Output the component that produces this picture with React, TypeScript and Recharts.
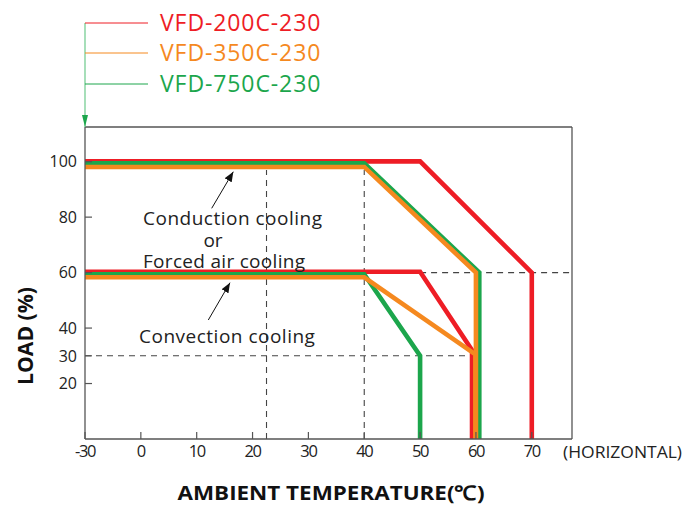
import React from "react";
import { LineChart, Line, XAxis, YAxis, ReferenceLine } from "recharts";

// colours
const RED = "#ee1d25";
const ORANGE = "#f5891f";
const GREEN = "#1ca64c";

// legend names
const models = ["VFD-200C-230", "VFD-350C-230", "VFD-750C-230"];

// x ticks (temperature, °C) and y ticks (load, %)
const tempTicks = [-30, 0, 10, 20, 30, 40, 50, 60, 70];
const loadTicksLeft = [100, 80, 60, 40, 30, 20];
const loadTicksRight = [100, 80, 60, 40, 20];

// VFD-200C-230
const redForcedT = [-30, 50, 70, 70];
const redForcedLoad = [100.1, 100.1, 60, 0];
const redConvT = [-30, 50, 59.3, 59.3];
const redConvLoad = [60.3, 60.3, 32, 0];

// VFD-750C-230
const greenForcedT = [-30, 40, 60.6, 60.6];
const greenForcedLoad = [99.4, 99.4, 60, 0];
const greenConvT = [-30, 40, 50, 50];
const greenConvLoad = [59.4, 59.4, 30, 0];

// VFD-350C-230
const orangeForcedT = [-30, 40, 60, 60];
const orangeForcedLoad = [98.1, 98.1, 60, 0];
const orangeConvT = [-30, 40, 59.9, 59.9];
const orangeConvLoad = [58.3, 58.3, 30.5, 0];

// the axis is broken: -30 sits one division left of 0
const pos = (t: number) => (t < 0 ? t / 3 : t);
const toPoints = (t: number[], l: number[]) => t.map((v, i) => ({ x: pos(v), y: l[i] }));

const X_MAX = 77.2;
const Y_MAX = 112.5;
const AXIS = "#555";
const FONT = "'Open Sans', sans-serif";

const LeftTick = (props: any) => {
  const { x, y, payload } = props;
  return (
    <g>
      <line x1={x} x2={x + 7} y1={y} y2={y} stroke={AXIS} strokeWidth={1.2} />
      <text x={x - 8} y={y} dy="0.36em" textAnchor="end" fontSize={16} fill="#222" fontFamily={FONT}>
        {payload.value}
      </text>
    </g>
  );
};

const RightTick = (props: any) => {
  const { x, y } = props;
  return <line x1={x - 7} x2={x} y1={y} y2={y} stroke={AXIS} strokeWidth={1.2} />;
};

const BottomTick = (props: any) => {
  const { x, y, payload } = props;
  const label = payload.value < 0 ? payload.value * 3 : payload.value;
  return (
    <g>
      <line x1={x} x2={x} y1={y} y2={y - 7} stroke={AXIS} strokeWidth={1.2} />
      <text x={x} y={y + 18} textAnchor="middle" fontSize={16.5} letterSpacing={-1.4} fill="#222" fontFamily={FONT}>
        {label}
      </text>
    </g>
  );
};

const dash = { stroke: "#444", strokeDasharray: "6 5", strokeWidth: 1.1 };

export default function App() {
  const lw = 4.6;
  return (
    <div style={{ position: "absolute", left: 0, top: 0, width: 689, height: 508, background: "#fff" }}>
      <LineChart width={689} height={508} margin={{ top: 126, right: 116, bottom: 68, left: 84 }}>
        <XAxis
          type="number"
          dataKey="x"
          domain={[-10, X_MAX]}
          ticks={tempTicks.map(pos)}
          tick={<BottomTick />}
          tickLine={false}
          tickSize={0}
          tickMargin={0}
          height={1}
          interval={0}
          axisLine={{ stroke: AXIS, strokeWidth: 1.3 }}
          allowDataOverflow
        />
        <XAxis
          xAxisId="top"
          orientation="top"
          type="number"
          dataKey="x"
          domain={[-10, X_MAX]}
          tick={false}
          tickLine={false}
          height={1}
          axisLine={{ stroke: AXIS, strokeWidth: 1.3 }}
        />
        <YAxis
          type="number"
          domain={[0, Y_MAX]}
          ticks={loadTicksLeft}
          tick={<LeftTick />}
          tickLine={false}
          tickSize={0}
          tickMargin={0}
          width={1}
          interval={0}
          axisLine={{ stroke: AXIS, strokeWidth: 1.3 }}
          allowDataOverflow
        />
        <YAxis
          yAxisId="right"
          orientation="right"
          type="number"
          domain={[0, Y_MAX]}
          ticks={loadTicksRight}
          tick={<RightTick />}
          tickLine={false}
          tickSize={0}
          tickMargin={0}
          width={1}
          interval={0}
          axisLine={{ stroke: AXIS, strokeWidth: 1.3 }}
        />

        <ReferenceLine segment={[{ x: 22.5, y: 0 }, { x: 22.5, y: 97 }]} {...dash} />
        <ReferenceLine segment={[{ x: 40, y: 0 }, { x: 40, y: 97 }]} {...dash} />
        <ReferenceLine segment={[{ x: 50, y: 60 }, { x: X_MAX, y: 60 }]} {...dash} />
        <ReferenceLine segment={[{ x: -10, y: 30 }, { x: 59.3, y: 30 }]} {...dash} />

        <Line data={toPoints(redForcedT, redForcedLoad)} dataKey="y" stroke={RED} strokeWidth={lw} dot={false} isAnimationActive={false} strokeLinejoin="miter" />
        <Line data={toPoints(redConvT, redConvLoad)} dataKey="y" stroke={RED} strokeWidth={lw} dot={false} isAnimationActive={false} strokeLinejoin="miter" />
        <Line data={toPoints(greenForcedT, greenForcedLoad)} dataKey="y" stroke={GREEN} strokeWidth={lw} dot={false} isAnimationActive={false} strokeLinejoin="miter" />
        <Line data={toPoints(greenConvT, greenConvLoad)} dataKey="y" stroke={GREEN} strokeWidth={lw} dot={false} isAnimationActive={false} strokeLinejoin="miter" />
        <Line data={toPoints(orangeForcedT, orangeForcedLoad)} dataKey="y" stroke={ORANGE} strokeWidth={lw} dot={false} isAnimationActive={false} strokeLinejoin="miter" />
        <Line data={toPoints(orangeConvT, orangeConvLoad)} dataKey="y" stroke={ORANGE} strokeWidth={lw} dot={false} isAnimationActive={false} strokeLinejoin="miter" />
      </LineChart>

      {/* legend, notes and titles */}
      <svg width={689} height={508} style={{ position: "absolute", left: 0, top: 0, pointerEvents: "none" }} fontFamily={FONT}>
        <defs>
          <marker id="arr" markerWidth="10" markerHeight="8" refX="10" refY="4" orient="auto" markerUnits="userSpaceOnUse">
            <path d="M0,0 L10,4 L0,8 z" fill="#111" />
          </marker>
          <marker id="garr" markerWidth="12" markerHeight="8" refX="12" refY="4" orient="auto" markerUnits="userSpaceOnUse">
            <path d="M0,1 L12,4 L0,7 z" fill={GREEN} />
          </marker>
        </defs>
        <line x1={85} y1={23} x2={85} y2={127} stroke="#6cc98a" strokeWidth={1.2} markerEnd="url(#garr)" />
        {models.map((m, i) => {
          const c = [RED, ORANGE, GREEN][i];
          const y = [23, 53, 84][i];
          return (
            <g key={m}>
              <line x1={85} x2={148} y1={y} y2={y} stroke={c} strokeWidth={1} />
              <text x={160} y={y} dy="0.36em" fontSize={23} letterSpacing={0.9} fill={c}>
                {m}
              </text>
            </g>
          );
        })}

        <text x={143} y={218} dy="0.36em" fontSize={19} letterSpacing={0.5} fill="#222">Conduction cooling</text>
        <text x={213} y={240} dy="0.36em" fontSize={19} fill="#222" textAnchor="middle">or</text>
        <text x={143} y={261} dy="0.36em" fontSize={19} letterSpacing={0.3} fill="#222">Forced air cooling</text>
        <text x={139} y={336} dy="0.36em" fontSize={19} letterSpacing={0.5} fill="#222">Convection cooling</text>
        <line x1={211.7} y1={208.3} x2={233.3} y2={171.7} stroke="#111" strokeWidth={1} markerEnd="url(#arr)" />
        <line x1={208.3} y1={320} x2={230} y2={282.7} stroke="#111" strokeWidth={1} markerEnd="url(#arr)" />

        <text x={563} y={452} dy="0.36em" fontSize={17} fill="#222" textLength={119} lengthAdjust="spacingAndGlyphs">(HORIZONTAL)</text>
        <text x={331} y={493} dy="0.36em" fontSize={20} fontWeight="bold" fill="#111" textAnchor="middle" textLength={307} lengthAdjust="spacingAndGlyphs">
          AMBIENT TEMPERATURE(℃)
        </text>
        <text x={25} y={336} dy="0.36em" fontSize={21} fontWeight="bold" fill="#111" textAnchor="middle" transform="rotate(-90 25 336)" textLength={98} lengthAdjust="spacingAndGlyphs">
          LOAD (%)
        </text>
      </svg>
    </div>
  );
}
